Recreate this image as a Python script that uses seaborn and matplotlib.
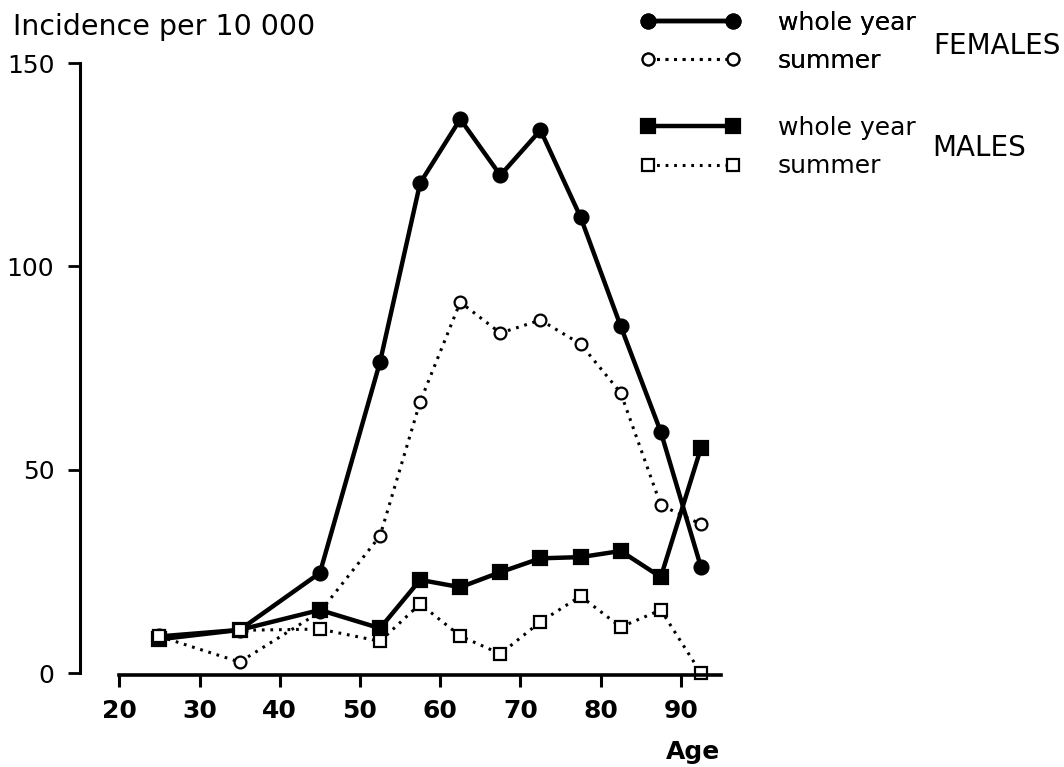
import matplotlib
matplotlib.use("Agg")
import matplotlib.pyplot as plt
import seaborn as sns

# Age group midpoints
ages = [25, 35, 45, 52.5, 57.5, 62.5, 67.5, 72.5, 77.5, 82.5, 87.5, 92.5]

# Incidence per 10 000
females_whole = [9, 10.6, 24.6, 76.5, 120.5, 136.2, 122.4, 133.5, 112.1, 85.3, 59.3, 26.1]
females_summer = [9, 2.7, 15, 33.7, 66.7, 91.2, 83.6, 86.8, 80.9, 68.9, 41.3, 36.6]
males_whole = [8.3, 10.6, 15.5, 11, 22.9, 21.1, 24.8, 28.2, 28.5, 30.0, 23.6, 55.3]
males_summer = [9, 10.5, 10.8, 7.8, 17, 9.1, 4.7, 12.6, 18.9, 11.3, 15.5, 0]

y_ticks = [0, 50, 100, 150]
x_ticks = [20, 30, 40, 50, 60, 70, 80, 90]

sns.set_style("ticks")
plt.rcParams["font.family"] = ["DejaVu Sans"]
plt.rcParams.update({"text.color": "black", "xtick.color": "black",
                     "ytick.color": "black", "axes.edgecolor": "black",
                     "axes.labelcolor": "black"})

fig = plt.figure(figsize=(10.64, 7.67), dpi=100)
ax = fig.add_axes([0.0752, 0.1199, 0.6024, 0.7979])

dotted = (0, (0.9, 1.9))
series = [
    (females_whole, "o", 10, "black", "-", 3.2),
    (females_summer, "o", 8.5, "white", dotted, 2.2),
    (males_whole, "s", 9.5, "black", "-", 3.2),
    (males_summer, "s", 9, "white", dotted, 2.2),
]
lines = []
for vals, mk, ms, fc, ls, lw in series:
    sns.lineplot(x=ages, y=vals, ax=ax, sort=False, color="black",
                 marker=mk, markersize=ms, markerfacecolor=fc,
                 markeredgecolor="black", markeredgewidth=1.6,
                 linestyle=ls, linewidth=lw, clip_on=False)
    lines.append(ax.lines[-1])

ax.set_xlim(15.1, 95)
ax.set_ylim(-0.5, 150)
ax.set_xticks(x_ticks)
ax.set_yticks(y_ticks)
ax.set_xlabel("")
ax.set_ylabel("")

for s in ["top", "right"]:
    ax.spines[s].set_visible(False)
ax.spines["left"].set_bounds(0, 150)
ax.spines["bottom"].set_bounds(20, 95)
ax.spines["left"].set_linewidth(2.2)
ax.spines["bottom"].set_linewidth(2.6)

ax.tick_params(axis="y", length=8.5, width=2, pad=10, labelsize=18)
ax.tick_params(axis="x", length=8.5, width=2.2, pad=9, labelsize=18)
for t in ax.get_xticklabels():
    t.set_fontweight("bold")

fig.text(0.012, 0.965, "Incidence per 10 000", fontsize=20.5, ha="left", va="center")
fig.text(0.677, 0.019, "Age", fontsize=18, fontweight="bold", ha="right", va="center")

leg_kw = dict(loc="upper left", frameon=False, numpoints=2, handlelength=4.0,
              handletextpad=1.5, labelspacing=0.58, borderpad=0,
              borderaxespad=0, fontsize=18)
leg_f = fig.legend([lines[0], lines[1]], ["whole year", "summer"],
                   bbox_to_anchor=(0.602, 0.986), **leg_kw)
fig.add_artist(leg_f)
fig.legend([lines[2], lines[3]], ["whole year", "summer"],
           bbox_to_anchor=(0.602, 0.849), **leg_kw)

fig.text(0.877, 0.940, "FEMALES", fontsize=20, ha="left", va="center")
fig.text(0.876, 0.807, "MALES", fontsize=20, ha="left", va="center")

fig.savefig("out.png", dpi=100)
